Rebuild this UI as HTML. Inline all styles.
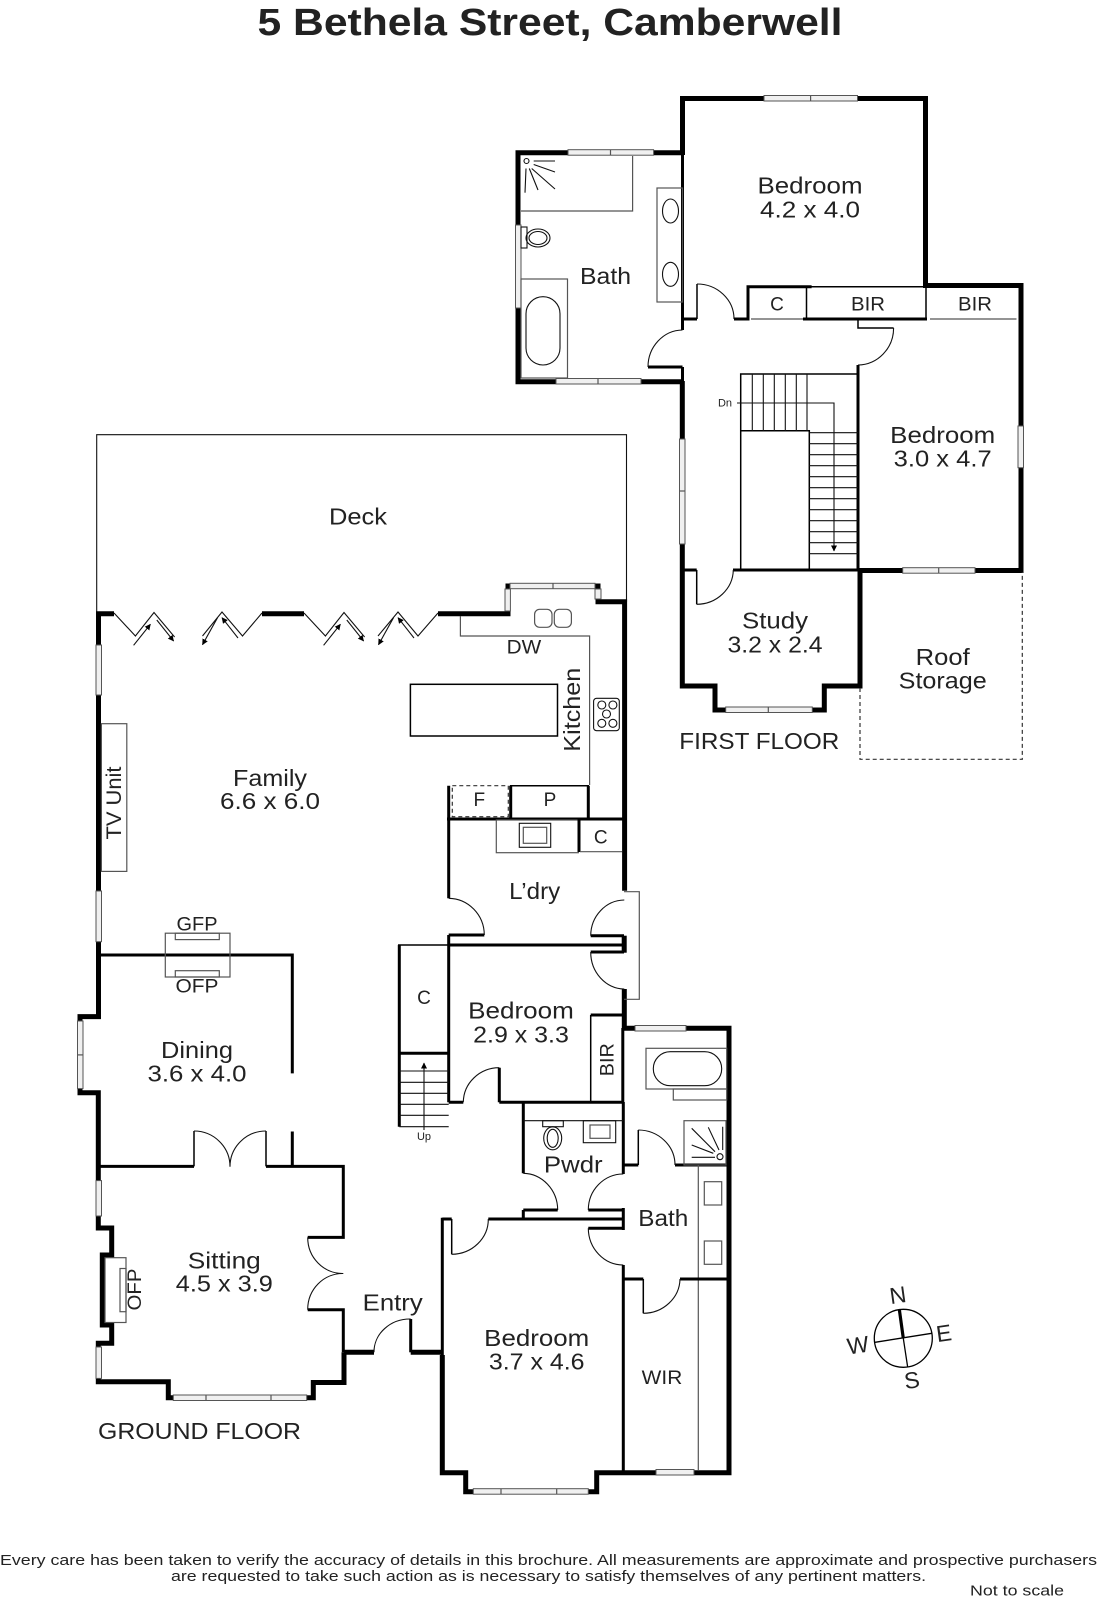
<!DOCTYPE html>
<html><head><meta charset="utf-8"><style>
html,body{margin:0;padding:0;background:#fff}
svg{display:block}
text{font-family:"Liberation Sans",sans-serif;fill:#222}
.w,.m,.t,.g,.a{fill:none;stroke-linejoin:miter}
.w{stroke:#000;stroke-width:5}
.m{stroke:#000;stroke-width:3}
.t{stroke:#000;stroke-width:1.5}
.g{stroke:#555;stroke-width:1.2}
.a{stroke:#111;stroke-width:1.1}
.d{fill:none;stroke:#333;stroke-width:1.2;stroke-dasharray:4 3}
.win{fill:#f0f0f0;stroke:#555;stroke-width:1}
.c{text-anchor:middle}
</style></head><body>
<svg xmlns="http://www.w3.org/2000/svg" width="1097" height="1600" viewBox="0 0 1097 1600">
<defs><marker id="ah" markerWidth="7" markerHeight="7" refX="5.5" refY="3" orient="auto" markerUnits="userSpaceOnUse"><path d="M0,0L6,3L0,6z" fill="#000"/></marker></defs>
<rect width="1097" height="1600" fill="#fff"/>

<text x="550" y="35" class="c" font-size="38" font-weight="bold" textLength="585" lengthAdjust="spacingAndGlyphs">5 Bethela Street, Camberwell</text>

<!-- FIRST FLOOR walls -->
<path class="w" d="M682.5,155V98.5H925.5V285.5H1021V570.5H858"/>
<path class="w" d="M684,152.7H518V381.7H684"/>
<path class="w" d="M682.3,381V686H715V710H824.3V686H860V570"/>
<path class="m" d="M682.5,153V330M682.5,367V382"/>
<path class="m" d="M648,367H682.5"/>
<path class="a" d="M648,367A35,37 0 0 1 682.5,330"/>
<path class="m" d="M682.5,319H697"/>
<path class="t" d="M697,319V284"/>
<path class="a" d="M697,284A37,35 0 0 1 734,319"/>
<path class="m" d="M734,319H748V286.7H811.6M803,319H927"/>
<path class="t" d="M806.5,286.7V319M811,286.7H926M926,283V319"/>
<path class="g" d="M751,319H803M930,319H1016.5"/>
<path class="t" d="M858,319V328H893.6"/>
<path class="a" d="M893.6,328A36,37 0 0 1 858,365"/>
<path class="m" d="M858,365V570"/>
<path class="m" d="M682.3,570H696.7M733,570H858"/>
<path class="t" d="M696.7,570V604.3"/>
<path class="a" d="M696.7,604.3A37,35 0 0 0 733.3,570"/>
<path class="d" d="M860,688V759.3H1022.3V572"/>

<!-- first floor windows -->
<rect class="win" x="764" y="95.5" width="93.5" height="5.5"/><path class="g" d="M810.6,95.5V101"/>
<rect class="win" x="568" y="149.7" width="85.6" height="5.5"/><path class="g" d="M610.5,149.7V155.2"/>
<rect class="win" x="515.5" y="225" width="5.5" height="83"/>
<rect class="win" x="556" y="378.5" width="85" height="5.5"/><path class="g" d="M598,378.5V384"/>
<rect class="win" x="679.5" y="439" width="5.5" height="105"/><path class="g" d="M679.5,491H685"/>
<rect class="win" x="1018" y="426" width="5.5" height="41.7"/>
<rect class="win" x="902.7" y="567.7" width="72.3" height="5.5"/><path class="g" d="M938.7,567.7V573.2"/>
<rect class="win" x="725.7" y="707" width="86.6" height="5.5"/><path class="g" d="M768.3,707V712.5"/>

<!-- first floor bath fixtures -->
<path class="g" d="M521,211H632.6V156"/>
<circle class="a" cx="526.5" cy="161" r="2.5"/>
<path class="a" d="M533.7,161H555M533.7,164.5L555,172M531.7,168.5L555,189M529.3,168.5L538,190M526,168.5L525,192.7"/>
<rect class="g" x="657" y="188" width="25.5" height="114"/>
<ellipse class="a" cx="670.5" cy="211" rx="8" ry="12"/><ellipse class="a" cx="670.5" cy="274.3" rx="8" ry="12"/>
<rect class="a" x="521" y="227" width="6" height="21"/>
<ellipse class="a" cx="538" cy="238" rx="12" ry="9"/><ellipse class="a" cx="538" cy="238" rx="9" ry="6.5"/>
<rect class="g" x="521" y="279" width="46.5" height="99"/>
<rect class="a" x="526" y="296.7" width="34" height="68.3" rx="17"/>

<!-- stairs -->
<path class="t" d="M740.7,570V374H858M740.7,430.7H809.3V570"/>
<path class="a" d="M752.3,374V430.7M763.3,374V430.7M774.3,374V430.7M785.3,374V430.7M796.3,374V430.7M807,374V430.7"/>
<path class="a" d="M809.3,432.7H858M809.3,443.7H858M809.3,454.7H858M809.3,465.7H858M809.3,476.7H858M809.3,487.7H858M809.3,498.7H858M809.3,509.7H858M809.3,520.7H858M809.3,531.7H858M809.3,542.7H858M809.3,553.7H858"/>
<path class="a" d="M737,403H834V551" marker-end="url(#ah)"/>
<text x="725" y="406.7" class="c" font-size="11">Dn</text>

<!-- first floor labels -->
<text x="810" y="193.3" class="c" font-size="23" textLength="105" lengthAdjust="spacingAndGlyphs">Bedroom</text>
<text x="810" y="217.3" class="c" font-size="23" textLength="100" lengthAdjust="spacingAndGlyphs">4.2 x 4.0</text>
<text x="605.5" y="284" class="c" font-size="23" textLength="51" lengthAdjust="spacingAndGlyphs">Bath</text>
<text x="777" y="310.7" class="c" font-size="19">C</text>
<text x="868" y="310.7" class="c" font-size="19" textLength="34" lengthAdjust="spacingAndGlyphs">BIR</text>
<text x="975" y="310.7" class="c" font-size="19" textLength="34" lengthAdjust="spacingAndGlyphs">BIR</text>
<text x="942.7" y="443" class="c" font-size="23" textLength="105" lengthAdjust="spacingAndGlyphs">Bedroom</text>
<text x="942.7" y="466.7" class="c" font-size="23" textLength="98" lengthAdjust="spacingAndGlyphs">3.0 x 4.7</text>
<text x="775" y="628.7" class="c" font-size="23" textLength="66" lengthAdjust="spacingAndGlyphs">Study</text>
<text x="775" y="652.7" class="c" font-size="23" textLength="95" lengthAdjust="spacingAndGlyphs">3.2 x 2.4</text>
<text x="942.7" y="665" class="c" font-size="23" textLength="54" lengthAdjust="spacingAndGlyphs">Roof</text>
<text x="942.7" y="688.3" class="c" font-size="23" textLength="88" lengthAdjust="spacingAndGlyphs">Storage</text>
<text x="679.3" y="749" font-size="23" textLength="160" lengthAdjust="spacingAndGlyphs">FIRST FLOOR</text>

<!-- Deck -->
<path class="a" d="M96.7,612V434.7H626.5V601.7"/>
<text x="358" y="524.5" class="c" font-size="23" textLength="58" lengthAdjust="spacingAndGlyphs">Deck</text>

<!-- GROUND: outer walls -->
<path class="w" d="M114,613.7H98.5V1016.6H80V1092.7H98.3V1228H111.7V1255H102.3V1325H111.7V1343.2H98.3V1381.7H168.3V1397.7H313.3V1382.5H344V1352.3"/>
<path class="w" d="M262,613.7H304M438,613.7H508V586H598V601.7H624.6V890.7"/>
<path class="w" d="M344,1352.3H374M410.7,1352.3H441.7"/>
<path class="w" d="M624.3,989V1028.3H729V1472.7H596.7V1491.7H465.7V1472.7H442.3V1355"/>
<path class="w" d="M624.2,935.7V952.7"/>

<!-- folding doors -->
<g class="a">
<path d="M114,613L135.4,636L154,612.5L174.6,637"/>
<path d="M133.6,645.3L150.4,624.3" marker-end="url(#ah)"/><path d="M156.8,620L173.6,641" marker-end="url(#ah)"/>
<path d="M262,613L242.5,636L222,612L202.5,636"/>
<path d="M238,638L222,617.7" marker-end="url(#ah)"/><path d="M217.5,617.7L202.5,644.7" marker-end="url(#ah)"/>
<path d="M304,613L325.4,636L344,612.5L364.6,637"/>
<path d="M323.6,645.3L340.4,624.3" marker-end="url(#ah)"/><path d="M346.8,620L363.6,641" marker-end="url(#ah)"/>
<path d="M438,613L418,636L398,612L378,636"/>
<path d="M414,638L398,617.7" marker-end="url(#ah)"/><path d="M393.5,617.7L378.5,644.7" marker-end="url(#ah)"/>
</g>

<!-- Kitchen -->
<path class="g" d="M460.4,616V636H589.6V785" stroke-width="1.5"/>
<rect class="g" x="534.6" y="609.3" width="17.4" height="18" rx="5"/><rect class="g" x="554.3" y="609.3" width="17.1" height="18" rx="5"/>
<rect class="t" x="410.4" y="684.3" width="147.1" height="51.7" stroke-width="1.2"/>
<rect class="a" x="593.6" y="698.3" width="25.7" height="32.4" rx="3"/>
<g class="a"><circle cx="601.8" cy="705" r="4"/><circle cx="612.9" cy="705" r="4"/><circle cx="606.5" cy="714" r="4"/><circle cx="601.8" cy="723.3" r="4"/><circle cx="612.9" cy="723.3" r="4"/></g>
<rect class="g" x="101.4" y="723.7" width="25.4" height="147.7"/>
<path class="m" d="M448.7,785.7V898.3"/>
<rect class="d" x="452.3" y="785.7" width="56" height="31"/>
<path class="t" d="M510,785.7H589"/>
<path class="m" d="M510.7,785.7V819M588.3,785.7V819M447,819H624"/>
<rect class="g" x="496.3" y="820" width="82" height="32.7"/>
<rect class="a" x="519.3" y="823.3" width="31.4" height="24"/><rect class="g" x="523.3" y="827.3" width="23.4" height="16"/>
<path class="m" d="M579,819V852"/><path class="g" d="M580,851.7H622"/>

<!-- Laundry doors etc -->
<path class="a" d="M448.7,898.3A36,37 0 0 1 484.3,935"/>
<path class="m" d="M448.7,935H484.3M448.7,935V945" stroke-width="2.5"/>
<path class="t" d="M398,945H448.7"/>
<path class="m" d="M448.7,945H624" stroke-width="3.5"/>
<path class="m" d="M590.7,935.7H624M590.7,952H624" stroke-width="2.5"/>
<path class="a" d="M590.7,935.7A34,36 0 0 1 624.3,900M590.7,952A34,37 0 0 0 624.3,989"/>
<path class="g" d="M624,891.7H639.3V999.3H624"/>
<path class="m" d="M399.3,945V1126.7" stroke-width="2.5"/>
<path class="m" d="M448.7,945V1102.3" stroke-width="2.5"/>
<path class="m" d="M399,1053.3H448.7"/>
<path class="a" d="M399.3,1071H448.7M399.3,1082.3H448.7M399.3,1093.3H448.7M399.3,1104.3H448.7M399.3,1115.3H448.7M399.3,1126.7H448.7"/>
<path class="a" d="M424,1130V1063" marker-end="url(#ah)"/>
<path class="m" d="M448.7,1102.3H463.3M499.3,1102.3H622.3M499.3,1067.7V1102.3" stroke-width="2.5"/>
<path class="a" d="M463.3,1102.3A36,35 0 0 1 499.3,1067.7"/>
<path class="t" d="M590.7,1015V1102"/>
<path class="m" d="M590.7,1015H622.3" stroke-width="2.5"/>
<path class="m" d="M622.8,1028V1102" stroke-width="2.5"/>

<!-- upper bath fixtures -->
<rect class="g" x="646" y="1048.3" width="80.7" height="40.7"/>
<rect class="a" x="653.3" y="1051.7" width="68.4" height="34" rx="17"/>
<rect class="g" x="673.3" y="1089" width="53.4" height="11"/>

<!-- Powder -->
<path class="m" d="M523.3,1102V1173.3M623.3,1102V1174" stroke-width="2.5"/>
<path class="a" d="M523.3,1120.7H623.3"/>
<rect class="a" x="542.7" y="1120.7" width="20.6" height="6"/>
<ellipse class="a" cx="552.7" cy="1138.3" rx="9" ry="11.5"/><ellipse class="a" cx="552.7" cy="1138.3" rx="5.5" ry="9"/>
<rect class="a" x="583.3" y="1120.7" width="32.4" height="22"/><rect class="g" x="590" y="1125" width="20" height="13.3"/>
<path class="a" d="M523.3,1173.3A35,37 0 0 1 557.7,1210"/>
<path class="m" d="M523.3,1210H557.7M523.3,1210V1219" stroke-width="2.5"/>
<path class="m" d="M488.3,1219H623.3M442.3,1219H451.7" stroke-width="2.5"/>
<path class="m" d="M442.3,1217.7V1356" stroke-width="2.5"/>
<path class="t" d="M451.7,1219V1254.3"/>
<path class="a" d="M451.7,1254.3A37,35 0 0 0 488.3,1219"/>
<path class="m" d="M588.3,1210H623.3M588.3,1228.3H623.3M623.3,1208V1230" stroke-width="2.5"/>
<path class="a" d="M588.3,1210A35,36 0 0 1 623.3,1174M588.3,1228.3A35,37 0 0 0 623.3,1265"/>
<path class="m" d="M623.3,1265V1471" stroke-width="2.5"/>
<path class="m" d="M623.3,1165H638.3M675,1165H726.7" stroke-width="2.5"/>
<path class="t" d="M638.3,1165V1130"/>
<path class="a" d="M638.3,1130A37,35 0 0 1 675,1165"/>
<rect class="g" x="684" y="1120.7" width="42" height="44.3"/>
<circle class="a" cx="720" cy="1156.7" r="3"/>
<path class="a" d="M691.7,1128.3L715,1151.7M708.3,1127.3L719,1150M722.7,1126.7V1150M691.7,1145L713.3,1153.3M691.7,1157.3H715"/>
<path class="g" d="M698.3,1165V1470" stroke-width="1.5"/>
<rect class="g" x="704.3" y="1181.7" width="17.4" height="23.3"/><rect class="g" x="704.3" y="1241" width="17.4" height="23.3"/>
<path class="m" d="M623.3,1279H643.3M680,1279H726.7" stroke-width="2.5"/>
<path class="t" d="M643.3,1279V1313.3"/>
<path class="a" d="M643.3,1313.3A37,35 0 0 0 680,1279"/>

<!-- Dining / sitting -->
<path class="m" d="M98,955H292.3V1073.4M292.3,1131.5V1166.4M98,1166.4H194M266,1166.4H343.3V1237.4H307.7M307.7,1309.7H343.3V1352.3" stroke-width="2.5"/>
<path class="t" d="M194,1166.4V1131M266,1166.4V1131"/>
<path class="a" d="M194,1131A36,35.7 0 0 1 230,1166.7A36,35.7 0 0 1 266,1131"/>
<path class="a" d="M307.7,1237.4A35,36 0 0 0 343.3,1273.5A35,36 0 0 0 307.7,1309.7"/>
<path class="a" d="M374,1352.3A36,33 0 0 1 410.7,1319"/>
<path class="m" d="M410.7,1319V1352.3" stroke-width="2"/>
<rect class="g" x="165.3" y="933.2" width="64.7" height="43.8"/>
<rect class="g" x="175.3" y="933.2" width="44" height="6.4"/><rect class="g" x="175.3" y="970.7" width="44" height="6.3"/>
<rect class="g" x="105" y="1257.7" width="21" height="64.8"/>
<rect class="g" x="120" y="1268.5" width="6" height="43.2"/>

<!-- ground windows -->
<rect class="win" x="96" y="645" width="5.5" height="50"/>
<rect class="win" x="96" y="891" width="5.5" height="50.7"/>
<rect class="win" x="77.5" y="1021" width="5.5" height="67.6"/><path class="g" d="M77.5,1054.9H83"/>
<rect class="win" x="96" y="1180.6" width="5.5" height="35.4"/>
<rect class="win" x="96" y="1347" width="5.5" height="31.4"/>
<rect class="win" x="173.3" y="1395" width="133.4" height="5.5"/><path class="g" d="M206,1395V1400.5M271,1395V1400.5"/>
<rect class="win" x="473.3" y="1488.7" width="115" height="5.5"/><path class="g" d="M501,1488.7V1494.2M556.7,1488.7V1494.2"/>
<rect class="win" x="656" y="1469.5" width="38" height="5.5"/>
<rect class="win" x="635" y="1025.5" width="51" height="5.5"/>
<rect class="win" x="505" y="589" width="5.4" height="22"/>
<rect class="win" x="510" y="583.3" width="85" height="5.4"/><path class="g" d="M553,583.3V588.7"/>
<rect class="win" x="595" y="589" width="6" height="10"/>

<!-- ground labels -->
<text x="524" y="653.3" class="c" font-size="19" textLength="34.6" lengthAdjust="spacingAndGlyphs">DW</text>
<text transform="translate(580,709.7) rotate(-90)" class="c" font-size="23" textLength="84" lengthAdjust="spacingAndGlyphs">Kitchen</text>
<text transform="translate(121,803) rotate(-90)" class="c" font-size="21" textLength="73" lengthAdjust="spacingAndGlyphs">TV Unit</text>
<text x="270" y="786" class="c" font-size="23" textLength="74" lengthAdjust="spacingAndGlyphs">Family</text>
<text x="270" y="809" class="c" font-size="23" textLength="100" lengthAdjust="spacingAndGlyphs">6.6 x 6.0</text>
<text x="479.3" y="806" class="c" font-size="19">F</text>
<text x="550" y="806" class="c" font-size="19">P</text>
<text x="600.7" y="843.3" class="c" font-size="19">C</text>
<text x="534.7" y="899" class="c" font-size="23" textLength="51" lengthAdjust="spacingAndGlyphs">L’dry</text>
<text x="424" y="1004" class="c" font-size="19">C</text>
<text x="424" y="1140" class="c" font-size="11">Up</text>
<text x="521" y="1018.3" class="c" font-size="23" textLength="105.7" lengthAdjust="spacingAndGlyphs">Bedroom</text>
<text x="521" y="1042.7" class="c" font-size="23" textLength="95.7" lengthAdjust="spacingAndGlyphs">2.9 x 3.3</text>
<text transform="translate(613.3,1059.7) rotate(-90)" class="c" font-size="19" textLength="33" lengthAdjust="spacingAndGlyphs">BIR</text>
<text x="573.3" y="1172.7" class="c" font-size="23" textLength="58.7" lengthAdjust="spacingAndGlyphs">Pwdr</text>
<text x="663.3" y="1226" class="c" font-size="23" textLength="50" lengthAdjust="spacingAndGlyphs">Bath</text>
<text x="662" y="1384" class="c" font-size="19" textLength="40.6" lengthAdjust="spacingAndGlyphs">WIR</text>
<text x="536.7" y="1346" class="c" font-size="23" textLength="105" lengthAdjust="spacingAndGlyphs">Bedroom</text>
<text x="536.7" y="1369.3" class="c" font-size="23" textLength="95.7" lengthAdjust="spacingAndGlyphs">3.7 x 4.6</text>
<text x="197" y="930.4" class="c" font-size="19" textLength="41" lengthAdjust="spacingAndGlyphs">GFP</text>
<text x="197" y="992.3" class="c" font-size="19" textLength="43" lengthAdjust="spacingAndGlyphs">OFP</text>
<text x="197" y="1058" class="c" font-size="23" textLength="72" lengthAdjust="spacingAndGlyphs">Dining</text>
<text x="197" y="1081.5" class="c" font-size="23" textLength="99" lengthAdjust="spacingAndGlyphs">3.6 x 4.0</text>
<text x="224.3" y="1268.5" class="c" font-size="23" textLength="73" lengthAdjust="spacingAndGlyphs">Sitting</text>
<text x="224.3" y="1291.5" class="c" font-size="23" textLength="97" lengthAdjust="spacingAndGlyphs">4.5 x 3.9</text>
<text transform="translate(141,1289.5) rotate(-90)" class="c" font-size="19" textLength="42" lengthAdjust="spacingAndGlyphs">OFP</text>
<text x="392.7" y="1310.7" class="c" font-size="23" textLength="60" lengthAdjust="spacingAndGlyphs">Entry</text>
<text x="98" y="1439" font-size="23" textLength="203" lengthAdjust="spacingAndGlyphs">GROUND FLOOR</text>

<!-- compass -->
<circle cx="903.3" cy="1338.3" r="29" fill="none" stroke="#000" stroke-width="1.3"/>
<path d="M899.3,1309.3L903.3,1338.3" stroke="#000" stroke-width="3.2" fill="none"/>
<path d="M903.3,1338.3L907.7,1367.3M875,1342.3L931.7,1333.3" stroke="#000" stroke-width="1.3" fill="none"/>
<text transform="translate(899,1303) rotate(-8)" class="c" font-size="23">N</text>
<text transform="translate(945,1341) rotate(-8)" class="c" font-size="23">E</text>
<text transform="translate(913,1388) rotate(-8)" class="c" font-size="23">S</text>
<text transform="translate(859,1353) rotate(-8)" class="c" font-size="23">W</text>

<!-- footer -->
<text x="0" y="1565" font-size="15" textLength="1097" lengthAdjust="spacingAndGlyphs">Every care has been taken to verify the accuracy of details in this brochure.  All measurements are approximate and prospective purchasers</text>
<text x="171" y="1581" font-size="15" textLength="755" lengthAdjust="spacingAndGlyphs">are requested to take such action as is necessary to satisfy themselves of any pertinent matters.</text>
<text x="970" y="1595.7" font-size="15" textLength="94" lengthAdjust="spacingAndGlyphs">Not to scale</text>
</svg>
</body></html>
